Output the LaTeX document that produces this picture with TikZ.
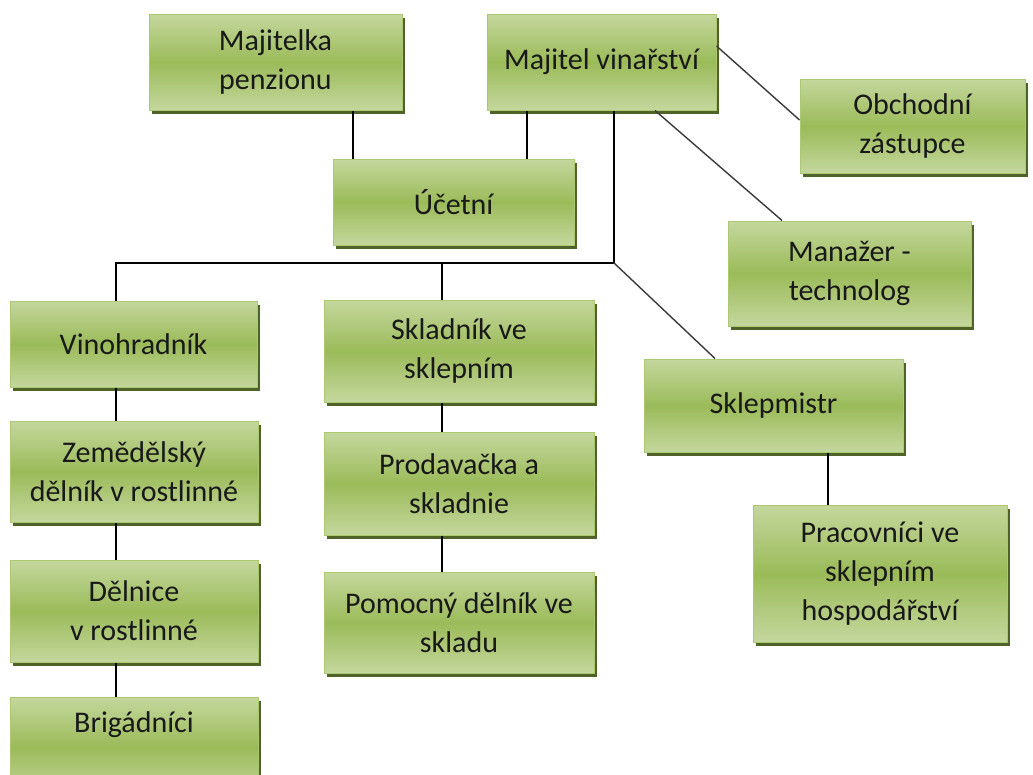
\documentclass[tikz,border=0pt]{standalone}
\usepackage{fontspec}
\setmainfont{Carlito}
\usetikzlibrary{shadows}

\definecolor{boxlight}{HTML}{C4D79D}
\definecolor{boxmid}{HTML}{9BBB59}
\definecolor{boxedge}{HTML}{ABC873}
\definecolor{boxshade}{HTML}{4F6228}
\definecolor{diagline}{HTML}{3A3A3A}

\begin{document}
\begin{tikzpicture}[x=1pt, y=-1pt,
    postbox/.style={draw=boxedge, line width=1pt, top color=boxlight, bottom color=boxlight,
      middle color=boxmid, align=center, inner sep=2pt, text=black!90,
      font=\fontsize{30}{39}\selectfont,
      drop shadow={shadow xshift=3pt, shadow yshift=-4pt, fill=boxshade, opacity=1}},
    link/.style={line width=1.4pt, black},
    slant/.style={line width=1.4pt, diagline}]
  \useasboundingbox (0,0) rectangle (1033,774);
  % top level
  \node [postbox, minimum width=253pt, minimum height=96pt] (majitelka) at (275.5,62) {Majitelka\\penzionu};
  \node [postbox, minimum width=229pt, minimum height=96pt] (majitel) at (601.5,62) {Majitel vinařství};
  \node [postbox, minimum width=225pt, minimum height=94pt] (obchodni) at (912.5,126) {Obchodní\\zástupce};
  \node [postbox, minimum width=241pt, minimum height=86pt] (ucetni) at (453.5,202) {Účetní};
  \node [postbox, minimum width=243pt, minimum height=105pt] (manazer) at (849.5,273.5) {Manažer -\\technolog};
  % second level
  \node [postbox, minimum width=247pt, minimum height=86pt] (vinohradnik) at (133.5,344) {Vinohradník};
  \node [postbox, minimum width=270pt, minimum height=102pt] (skladnik) at (459,351) {Skladník ve\\sklepním};
  \node [postbox, minimum width=259pt, minimum height=93pt] (sklepmistr) at (773.5,405.5) {Sklepmistr};
  % lower levels
  \node [postbox, minimum width=248pt, minimum height=101pt] (zemedelsky) at (134,471.5) {Zemědělský\\dělník v rostlinné};
  \node [postbox, minimum width=248pt, minimum height=102pt] (delnice) at (134,611) {Dělnice\\v rostlinné};
  \node [postbox, minimum width=248pt, minimum height=100pt] (brigadnici) at (134,747) {Brigádníci\\\strut};
  \node [postbox, minimum width=270pt, minimum height=103pt] (prodavacka) at (459,483.5) {Prodavačka a\\skladnie};
  \node [postbox, minimum width=270pt, minimum height=101pt] (pomocny) at (459,622.5) {Pomocný dělník ve\\skladu};
  \node [postbox, minimum width=254pt, minimum height=137pt] (pracovnici) at (880,573.5) {Pracovníci ve\\sklepním\\hospodářství};

  % connectors
  \coordinate (hub) at (614,263);
  \draw [link] ([xshift=-100.5pt]ucetni.north) -- ([xshift=-100.5pt]ucetni.north |- majitelka.south);
  \draw [link] ([xshift=73.5pt]ucetni.north) -- ([xshift=73.5pt]ucetni.north |- majitel.south);
  \draw [link] ([xshift=12.5pt]majitel.south) -- (hub);
  \draw [link] (hub) -| ([xshift=-17.5pt]vinohradnik.north);
  \draw [link] (hub -| skladnik) ++(-17pt,0) -- ([xshift=-17pt]skladnik.north);
  \draw [slant] ([yshift=16pt]majitel.east) -- ([yshift=6pt]obchodni.west);
  \draw [slant] ([xshift=53.5pt]majitel.south) -- ([xshift=-67.5pt]manazer.north);
  \draw [slant] (hub) -- ([xshift=-58.5pt]sklepmistr.north);
  \draw [link] ([xshift=-17.5pt]vinohradnik.south) -- ([xshift=-18pt]zemedelsky.north);
  \draw [link] ([xshift=-18pt]zemedelsky.south) -- ([xshift=-18pt]delnice.north);
  \draw [link] ([xshift=-18pt]delnice.south) -- ([xshift=-18pt]brigadnici.north);
  \draw [link] ([xshift=-17pt]skladnik.south) -- ([xshift=-17pt]prodavacka.north);
  \draw [link] ([xshift=-17pt]prodavacka.south) -- ([xshift=-17pt]pomocny.north);
  \draw [link] ([xshift=54.5pt]sklepmistr.south) -- ([xshift=-52pt]pracovnici.north);
\end{tikzpicture}
\end{document}
